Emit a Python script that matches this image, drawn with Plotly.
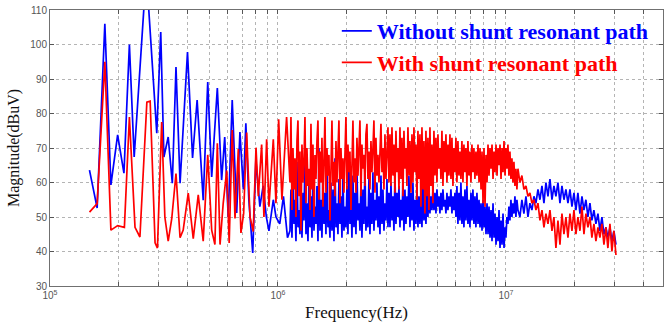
import plotly.graph_objects as go

# ---------------- data ----------------
# low-frequency part, frequencies in kHz
blue_low_freq_khz = [149, 161, 174, 185, 198, 211, 223, 234, 259, 270, 294, 306, 316, 330, 344,
                     357, 372, 401, 422, 442, 470, 492, 512, 542, 566, 584, 605, 630, 659, 681,
                     705, 723, 745, 775, 800, 833, 861, 889, 913, 954, 980, 1018, 1057, 1101]
blue_low_mag = [63.6, 52.6, 106, 59.3, 73.8, 62.7, 100, 67.4, 112, 112, 74.3, 103.6, 67.4, 73.2, 59.8,
                93.5, 59.8, 97.8, 67.1, 83.9, 54.9, 89.1, 61.6, 87.4, 60.7, 73.2, 50, 83.9, 51.2, 74.6,
                58, 77.2, 55, 39.6, 66.5, 53, 59, 50, 46, 55, 50, 48, 56, 44]

red_low_freq_khz = [149, 161, 174, 185, 198, 212, 223, 236, 248, 266, 275, 289, 296, 309, 319,
                    330, 342, 357, 372, 384, 404, 425, 447, 470, 492, 512, 529, 542, 557, 575,
                    596, 611, 630, 648, 670, 688, 707, 729, 754, 779, 801, 820, 848, 868, 892,
                    913, 954, 980, 1007, 1041, 1091]
red_low_mag = [51.4, 53.9, 95, 46.2, 47.5, 47, 79, 47, 44.2, 83.3, 83.6, 42.5, 41, 77.5, 50,
               43, 49.5, 62.6, 44, 46.2, 56.9, 43.7, 56.4, 43, 68, 46.2, 42, 71.4, 42, 53.9,
               63.5, 42.5, 75.2, 49.6, 69.7, 45.4, 51, 74.5, 50, 45.8, 70.1, 56, 71, 50, 72.5,
               53, 72.5, 54, 78.3, 55, 79]

# dense middle part (shared sweep, 1.13 MHz .. 11.2 MHz), frequencies in MHz
mid_freq_mhz = [
    1.1288, 1.1403, 1.1519, 1.1636, 1.1754, 1.1873, 1.1994, 1.2116, 1.2239, 1.2363,
    1.2488, 1.2615, 1.2743, 1.2872, 1.3003, 1.3135, 1.3268, 1.3403, 1.3539, 1.3676,
    1.3815, 1.3955, 1.4097, 1.4240, 1.4384, 1.4530, 1.4678, 1.4827, 1.4977, 1.5129,
    1.5283, 1.5438, 1.5594, 1.5752, 1.5912, 1.6073, 1.6237, 1.6402, 1.6569, 1.6737,
    1.6907, 1.7079, 1.7252, 1.7427, 1.7604, 1.7783, 1.7963, 1.8146, 1.8329, 1.8515,
    1.8703, 1.8893, 1.9085, 1.9279, 1.9474, 1.9672, 1.9871, 2.0073, 2.0277, 2.0483,
    2.0690, 2.0900, 2.1112, 2.1327, 2.1543, 2.1762, 2.1983, 2.2206, 2.2431, 2.2659,
    2.2889, 2.3121, 2.3356, 2.3593, 2.3832, 2.4074, 2.4318, 2.4565, 2.4814, 2.5066,
    2.5321, 2.5578, 2.5837, 2.6099, 2.6364, 2.6632, 2.6902, 2.7175, 2.7456, 2.7735,
    2.8016, 2.8301, 2.8588, 2.8878, 2.9171, 2.9467, 2.9766, 3.0068, 3.0373, 3.0681,
    3.0993, 3.1307, 3.1625, 3.1946, 3.2270, 3.2597, 3.2928, 3.3262, 3.3600, 3.3941,
    3.4285, 3.4633, 3.4985, 3.5340, 3.5698, 3.6061, 3.6427, 3.6796, 3.7170, 3.7547,
    3.7928, 3.8313, 3.8702, 3.9094, 3.9491, 3.9892, 4.0297, 4.0706, 4.1119, 4.1536,
    4.1958, 4.2384, 4.2814, 4.3248, 4.3687, 4.4130, 4.4578, 4.5030, 4.5491, 4.5953,
    4.6416, 4.6887, 4.7363, 4.7843, 4.8329, 4.8819, 4.9315, 4.9815, 5.0321, 5.0832,
    5.1348, 5.1869, 5.2395, 5.2927, 5.3464, 5.4007, 5.4555, 5.5108, 5.5668, 5.6233,
    5.6803, 5.7380, 5.7962, 5.8550, 5.9144, 5.9744, 6.0351, 6.0963, 6.1582, 6.2207,
    6.2838, 6.3476, 6.4120, 6.4771, 6.5428, 6.6092, 6.6763, 6.7440, 6.8125, 6.8816,
    6.9515, 7.0220, 7.0933, 7.1653, 7.2380, 7.3115, 7.3857, 7.4606, 7.5431, 7.6197,
    7.6970, 7.7751, 7.8540, 7.9337, 8.0142, 8.0955, 8.1777, 8.2607, 8.3445, 8.4292,
    8.5148, 8.6012, 8.6885, 8.7767, 8.8657, 8.9557, 9.0466, 9.1384, 9.2311, 9.3248,
    9.4194, 9.5150, 9.6116, 9.7091, 9.8077, 9.9072, 10.000, 10.102, 10.204, 10.307,
    10.412, 10.518, 10.625, 10.733, 10.841, 10.951, 11.062, 11.174]
red_mid_mag = [
    60, 79, 52, 70, 58, 67, 50, 72, 78, 56,
    69, 46, 71, 60, 66, 79, 54, 70, 59, 64,
    52, 77, 58, 71, 50, 68, 61, 72, 78, 55,
    69, 60, 73, 53, 66, 79, 57, 70, 62, 68,
    49, 71, 78, 59, 66, 56, 72, 60, 74, 78,
    54, 70, 61, 67, 57, 73, 79, 58, 71, 63,
    69, 52, 72, 78, 60, 67, 57, 73, 62, 70,
    78, 56, 71, 64, 68, 59, 74, 77, 61, 69,
    58, 72, 63, 70, 78, 57, 73, 62, 68, 60,
    71, 77, 63, 70, 58, 74, 61, 69, 76, 60,
    74, 59, 76, 62, 71, 57, 75, 63, 70, 58,
    76, 61, 73, 56, 75, 64, 70, 59, 76, 62,
    72, 57, 74, 60, 76, 63, 71, 55, 75, 61,
    74, 53, 76, 58, 72, 51, 75, 56, 73, 52, 76, 59, 71, 54,
    75, 62, 73, 60, 74, 64, 70, 61, 75, 59,
    72, 63, 74, 60, 71, 62, 74, 61, 73, 59,
    70, 63, 73, 60, 72, 62, 69, 61, 72, 60,
    71, 63, 70, 59, 72, 62, 69, 60, 71, 63,
    70, 61, 69, 62, 71, 60, 70,
    58, 69, 54, 70, 53, 68, 60,
    71, 62, 70, 64, 71, 61, 69, 63, 71, 62, 70, 65, 71, 61, 70, 63, 72, 62, 70, 64, 71,
    62, 69, 61, 67, 60, 66, 59, 64, 58]
blue_mid_mag = [
    46, 58, 44, 63, 48, 55, 43, 66, 47, 52,
    45, 60, 44, 57, 49, 68, 45, 54, 43, 61,
    47, 56, 44, 64, 46, 53, 48, 59, 43, 70,
    46, 55, 44, 62, 48, 57, 45, 65, 47, 52,
    44, 60, 46, 58, 43, 67, 47, 54, 45, 61,
    48, 56, 44, 63, 46, 53, 47, 59, 45, 66,
    48, 55, 44, 62, 47, 57, 45, 64, 49, 54,
    46, 60, 44, 58, 48, 65, 46, 53, 47, 61,
    45, 57, 48, 63, 46, 55, 49, 60, 47, 56,
    45, 62, 48, 58, 46, 54, 49, 61, 47, 57,
    47, 60, 49, 56, 46, 62, 48, 57, 50, 59,
    47, 55, 49, 61, 46, 58, 48, 56, 50, 62,
    47, 57, 49, 60, 46, 55, 48, 59, 47, 56,
    48, 58, 47, 60, 49, 55, 48, 57, 50, 59, 51, 56, 52, 58,
    52, 57, 51, 58, 53, 56, 51, 57, 52, 58,
    53, 55, 51, 57, 52, 56, 53, 58, 51, 56,
    52, 57, 50, 59, 48, 57, 49, 60, 48, 56,
    47, 58, 49, 59, 48, 55, 47, 57, 49, 58,
    48, 56, 47, 57, 48, 55, 47,
    54, 46, 55, 47, 53, 45, 54,
    45, 53, 44, 52, 43, 54, 44, 51, 42, 50, 43, 52, 41, 49, 42, 51, 41, 47, 44, 50, 48,
    53, 49, 55, 50, 54, 51, 56, 50, 55]

# high-frequency tail (shared sweep), frequencies in MHz
high_freq_mhz = [11.29, 11.52, 11.75, 11.99, 12.24, 12.49, 12.74, 13.00, 13.27, 13.54,
                 13.82, 14.10, 14.39, 14.68, 14.98, 15.29, 15.60, 15.92, 16.24, 16.57,
                 16.91, 17.26, 17.61, 17.97, 18.33, 18.71, 19.09, 19.48, 19.88, 20.28,
                 20.69, 21.12, 21.55, 21.99, 22.43, 22.89, 23.36, 23.83, 24.32, 24.82,
                 25.33, 25.84, 26.37, 26.91, 27.46, 28.01, 28.59, 29.17, 29.76, 30.38]
blue_high_mag = [52, 50, 55, 51, 56, 50, 54, 52, 56, 54, 58, 55, 59, 54, 60, 56, 61, 55, 59, 56,
                 60, 54, 59, 55, 58, 54, 58, 53, 57, 52, 57, 51, 56, 52, 55, 50, 54, 49, 52, 48,
                 51, 46, 50, 45, 47, 44, 47, 43, 46, 42]
red_high_mag = [64, 60, 62, 58, 59, 56, 57, 54, 55, 52, 54, 49, 52, 47, 51, 48, 52, 46, 50, 41,
                49, 42, 51, 45, 50, 44, 51, 46, 52, 45, 50, 46, 53, 45, 51, 47, 50, 44, 48, 43,
                47, 44, 48, 42, 47, 41, 48, 40, 46, 39]

x_major = [1e5, 1e6, 1e7]
x_major_text = ["10<sup>5</sup>", "10<sup>6</sup>", "10<sup>7</sup>"]
x_minor_mult = [2, 3, 4, 5, 6, 7, 8, 9]
y_ticks = [30, 40, 50, 60, 70, 80, 90, 100, 110]

# ---------------- assemble ----------------
n_mid = min(len(mid_freq_mhz), len(red_mid_mag), len(blue_mid_mag))
mid_hz = [f * 1e6 for f in mid_freq_mhz[:n_mid]]
high_hz = [f * 1e6 for f in high_freq_mhz]

blue_f = [f * 1e3 for f in blue_low_freq_khz] + mid_hz + high_hz
blue_m = blue_low_mag + blue_mid_mag[:n_mid] + blue_high_mag
red_f = [f * 1e3 for f in red_low_freq_khz] + mid_hz + high_hz
red_m = red_low_mag + red_mid_mag[:n_mid] + red_high_mag

tickvals, ticktext = [], []
for i, d in enumerate(x_major):
    tickvals.append(d)
    ticktext.append(x_major_text[i])
    for m in x_minor_mult:
        if d * m <= 5e7:
            tickvals.append(d * m)
            ticktext.append("")

fig = go.Figure()
fig.add_trace(go.Scatter(
    x=blue_f, y=blue_m, mode="lines",
    line=dict(color="#0000ff", width=1.7),
    name="<span style='color:#0000ff'><b>Without shunt resonant path</b></span>"))
fig.add_trace(go.Scatter(
    x=red_f, y=red_m, mode="lines",
    line=dict(color="#ff0000", width=1.7),
    name="<span style='color:#ff0000'><b>With shunt resonant path</b></span>"))

axis_common = dict(
    showgrid=True, gridcolor="#b4b4b4", griddash="dot", gridwidth=1,
    ticks="inside", ticklen=4, tickcolor="#555555",
    showline=True, linecolor="#707070", linewidth=1, mirror="ticks",
    zeroline=False,
    tickfont=dict(family="Liberation Sans, Arial", size=10, color="#555555"),
)

fig.update_xaxes(
    type="log", range=[5, 7.689],
    tickvals=tickvals, ticktext=ticktext,
    title=dict(text="Frequency(Hz)", standoff=6,
               font=dict(family="Liberation Serif, Times New Roman", size=17, color="#111111")),
    **axis_common)
fig.update_yaxes(
    range=[30, 110], tickvals=y_ticks,
    title=dict(text="Magnitude(dBuV)", standoff=6,
               font=dict(family="Liberation Serif, Times New Roman", size=16, color="#111111")),
    **axis_common)

fig.update_layout(
    width=665, height=322,
    margin=dict(l=50, r=2, t=10, b=36),
    plot_bgcolor="white", paper_bgcolor="white",
    showlegend=True,
    legend=dict(x=0.985, y=1.0, xanchor="right", yanchor="top",
                bgcolor="rgba(0,0,0,0)", borderwidth=0,
                font=dict(family="Liberation Serif, Times New Roman", size=22)),
)

fig.write_html("out.html")
